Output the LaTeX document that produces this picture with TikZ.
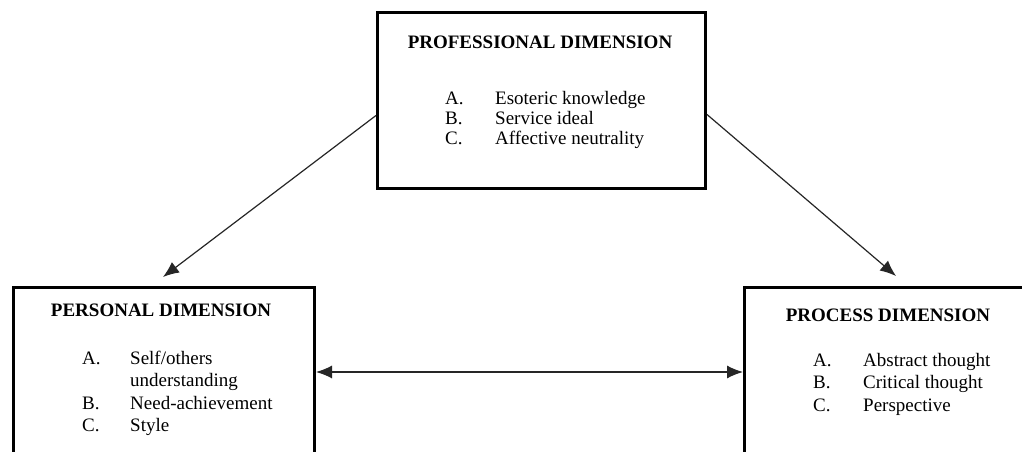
\documentclass[tikz,border=0pt]{standalone}
\usepackage{fontspec}
\setmainfont{Liberation Serif}
\usetikzlibrary{arrows.meta}
\begin{document}
\begin{tikzpicture}[x=1pt,y=1pt,
  box/.style={draw=black, line width=3pt, rectangle, inner sep=0pt, fill=none},
  ttl/.style={font=\fontsize{19}{22}\selectfont\bfseries, anchor=base, inner sep=0pt},
  itm/.style={font=\fontsize{19}{22}\selectfont, anchor=base west, inner sep=0pt},
  arr/.style={line width=1.2pt, draw=black!85, -{Latex[length=16pt,width=13pt]}},
  darr/.style={line width=1.2pt, draw=black!85, {Latex[length=16pt,width=13pt]}-{Latex[length=16pt,width=13pt]}}]
\useasboundingbox (0,0) rectangle (1022,452);
\clip (0,0) rectangle (1022,452);
\fill[white] (0,0) rectangle (1022,452);
% boxes
\node[box, anchor=north west, minimum width=328pt, minimum height=176pt] (prof) at (376,441) {};
\node[box, anchor=north west, minimum width=301pt, minimum height=220pt] (pers) at (12,166) {};
\node[box, anchor=north west, minimum width=301pt, minimum height=220pt] (proc) at (743,166) {};
% professional text
\node[ttl] (profT) at (540,403) {PROFESSIONAL DIMENSION};
\node[itm] (profA) at (445,347) {A.};
\node[itm] (profAt) at (495,347) {Esoteric knowledge};
\node[itm] (profB) at (445,327) {B.};
\node[itm] (profBt) at (495,327) {Service ideal};
\node[itm] (profC) at (445,307) {C.};
\node[itm] (profCt) at (495,307) {Affective neutrality};
% personal text
\node[ttl] (persT) at (161,135) {PERSONAL DIMENSION};
\node[itm] (persA) at (82,87) {A.};
\node[itm] (persAt) at (130,87) {Self/others};
\node[itm] (persAt2) at (130,65) {understanding};
\node[itm] (persB) at (82,42) {B.};
\node[itm] (persBt) at (130,42) {Need-achievement};
\node[itm] (persC) at (82,20) {C.};
\node[itm] (persCt) at (130,20) {Style};
% process text
\node[ttl] (procT) at (888,130) {PROCESS DIMENSION};
\node[itm] (procA) at (813,85) {A.};
\node[itm] (procAt) at (863,85) {Abstract thought};
\node[itm] (procB) at (813,63) {B.};
\node[itm] (procBt) at (863,63) {Critical thought};
\node[itm] (procC) at (813,40) {C.};
\node[itm] (procCt) at (863,40) {Perspective};
% arrows
\coordinate (tipL) at (163,175);
\coordinate (tipR) at (896,176);
\draw[arr] ([yshift=-15pt]prof.west) -- (tipL);
\draw[arr] ([yshift=-14pt]prof.east) -- (tipR);
\draw[darr] (pers.east |- 0,80) -- (proc.west |- 0,80);
\end{tikzpicture}
\end{document}
